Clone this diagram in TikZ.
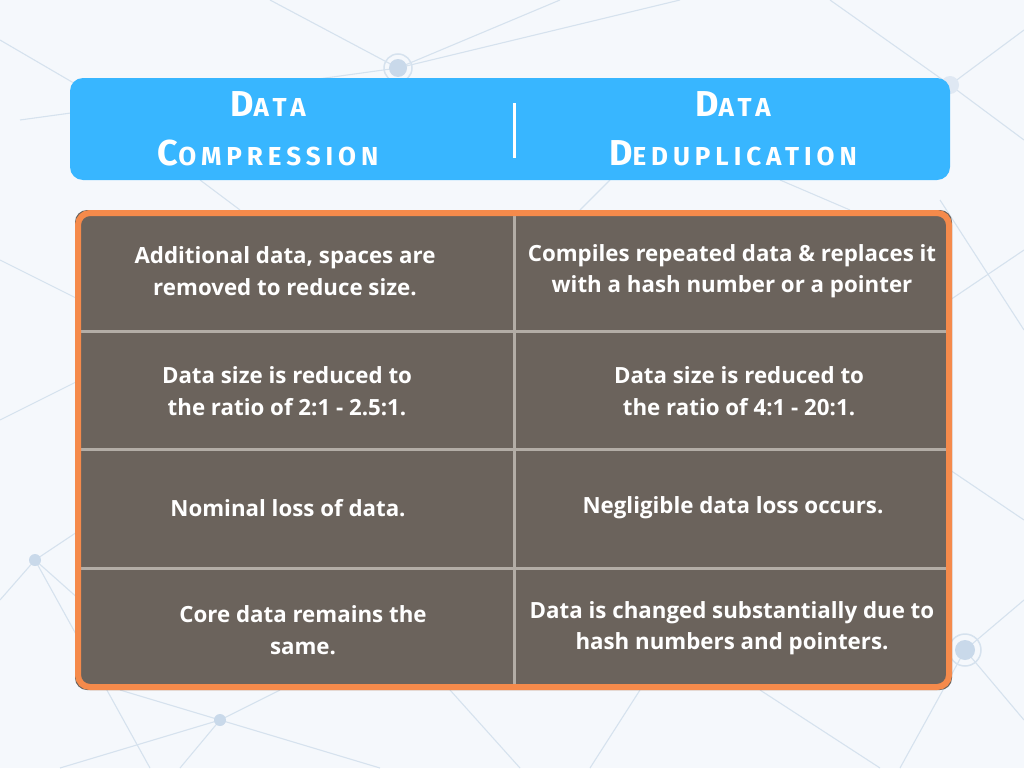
\documentclass[tikz,border=0pt]{standalone}
\usepackage{fontspec}
\setmainfont{Open Sans}
\newfontfamily\hdrfont[LetterSpace=19]{Fira Sans}
\definecolor{bgc}{HTML}{F5F8FC}
\definecolor{netc}{HTML}{D6E2EE}
\definecolor{netd}{HTML}{C9D9EA}
\definecolor{hdrblue}{HTML}{38B6FF}
\definecolor{orng}{HTML}{F58A4B}
\definecolor{cellc}{HTML}{6B635C}
\definecolor{gridc}{HTML}{B3ADA6}
\tikzset{
  net/.style={draw=netc, line width=1.1pt},
  celltext/.style={text=white, font=\bfseries\fontsize{22.3}{31.5}\selectfont, align=center},
  hdrtext/.style={text=white, font=\hdrfont\bfseries, align=center},
}
\newcommand{\bigsc}[2]{{\fontsize{36}{36}\selectfont #1}{\fontsize{26}{26}\selectfont #2}}
\begin{document}
\begin{tikzpicture}[x=1pt,y=-1pt]
\fill[bgc] (0,0) rectangle (1024,768);
\useasboundingbox (0,0) rectangle (1024,768);
% background network
\coordinate (n1) at (398,68);
\coordinate (n2) at (220,720);
\coordinate (n3) at (35,560);
\coordinate (n4) at (965,650);
\coordinate (n5) at (950,85);
\draw[net] (270,0) -- (n1) -- (560,0);
\draw[net] (n1) -- (680,0);
\draw[net] (n1) -- (20,120);
\draw[net] (0,40) -- (120,110);
\draw[net] (n5) -- (830,0);
\draw[net] (n5) -- (1024,30);
\draw[net] (n5) -- (1024,140);
\draw[net] (0,260) -- (80,300);
\draw[net] (0,420) -- (80,380);
\draw[net] (n3) -- (0,600);
\draw[net] (n3) -- (80,530);
\draw[net] (n3) -- (80,600);
\draw[net] (n3) -- (150,768);
\draw[net] (n2) -- (120,690);
\draw[net] (n2) -- (180,768);
\draw[net] (n2) -- (280,690);
\draw[net] (n2) -- (60,768);
\draw[net] (n2) -- (380,768);
\draw[net] (450,690) -- (520,768);
\draw[net] (640,690) -- (590,768);
\draw[net] (760,690) -- (880,768);
\draw[net] (n4) -- (1024,600);
\draw[net] (n4) -- (1024,720);
\draw[net] (n4) -- (900,768);
\draw[net] (950,300) -- (1024,250);
\draw[net] (950,470) -- (1024,520);
\draw[net] (940,200) -- (1024,330);
\draw[net] (200,180) -- (240,210);
\draw[net] (610,180) -- (580,210);
\draw[net] (780,180) -- (850,210);
\fill[netd] (n1) circle (9);
\draw[netc, line width=1.5pt] (n1) circle (14);
\fill[netd] (n4) circle (10);
\draw[netc, line width=1.5pt] (n4) circle (16);
\fill[netd] (n2) circle (6);
\fill[netd] (n3) circle (6);
\fill[netd!60] (n5) circle (9);
% header
\fill[hdrblue, rounded corners=13] (70,78) rectangle (950,180);
\node[hdrtext] (hl1) at (268,104) {\bigsc{D}{ATA}};
\node[hdrtext] (hl2) at (268,153) {\bigsc{C}{OMPRESSION}};
\node[hdrtext] (hr1) at (733,104) {\bigsc{D}{ATA}};
\node[hdrtext] (hr2) at (733,153) {\bigsc{D}{EDUPLICATION}};
\coordinate (dv1) at (514,103);
\coordinate (dv2) at (514,158);
\draw[white, line width=3pt] (dv1) -- (dv2);
% table
\fill[cellc, rounded corners=12] (75,210) rectangle (952,690);
\draw[gridc, line width=3pt] (514,214) -- (514,686);
\draw[gridc, line width=3pt] (80,331) -- (947,331);
\draw[gridc, line width=3pt] (80,449) -- (947,449);
\draw[gridc, line width=3pt] (80,568) -- (947,568);
\draw[orng, line width=6pt, rounded corners=12] (78,213) rectangle (949,687);
% cells
\node[celltext] (c11) at (285,271) {Additional data, spaces are\\removed to reduce size.};
\node[celltext] (c12) at (732,271) {Compiles repeated data \& replaces it\\with a hash number or a pointer};
\node[celltext] (c21) at (287,391) {Data size is reduced to\\the ratio of 2:1 - 2.5:1.};
\node[celltext] (c22) at (739,391) {Data size is reduced to\\the ratio of 4:1 - 20:1.};
\node[celltext] (c31) at (288,508) {Nominal loss of data.};
\node[celltext] (c32) at (733,508) {Negligible data loss occurs.};
\node[celltext] (c41) at (303,630) {Core data remains the\\same.};
\node[celltext] (c42) at (732,628) {Data is changed substantially due to\\hash numbers and pointers.};
\end{tikzpicture}
\end{document}
